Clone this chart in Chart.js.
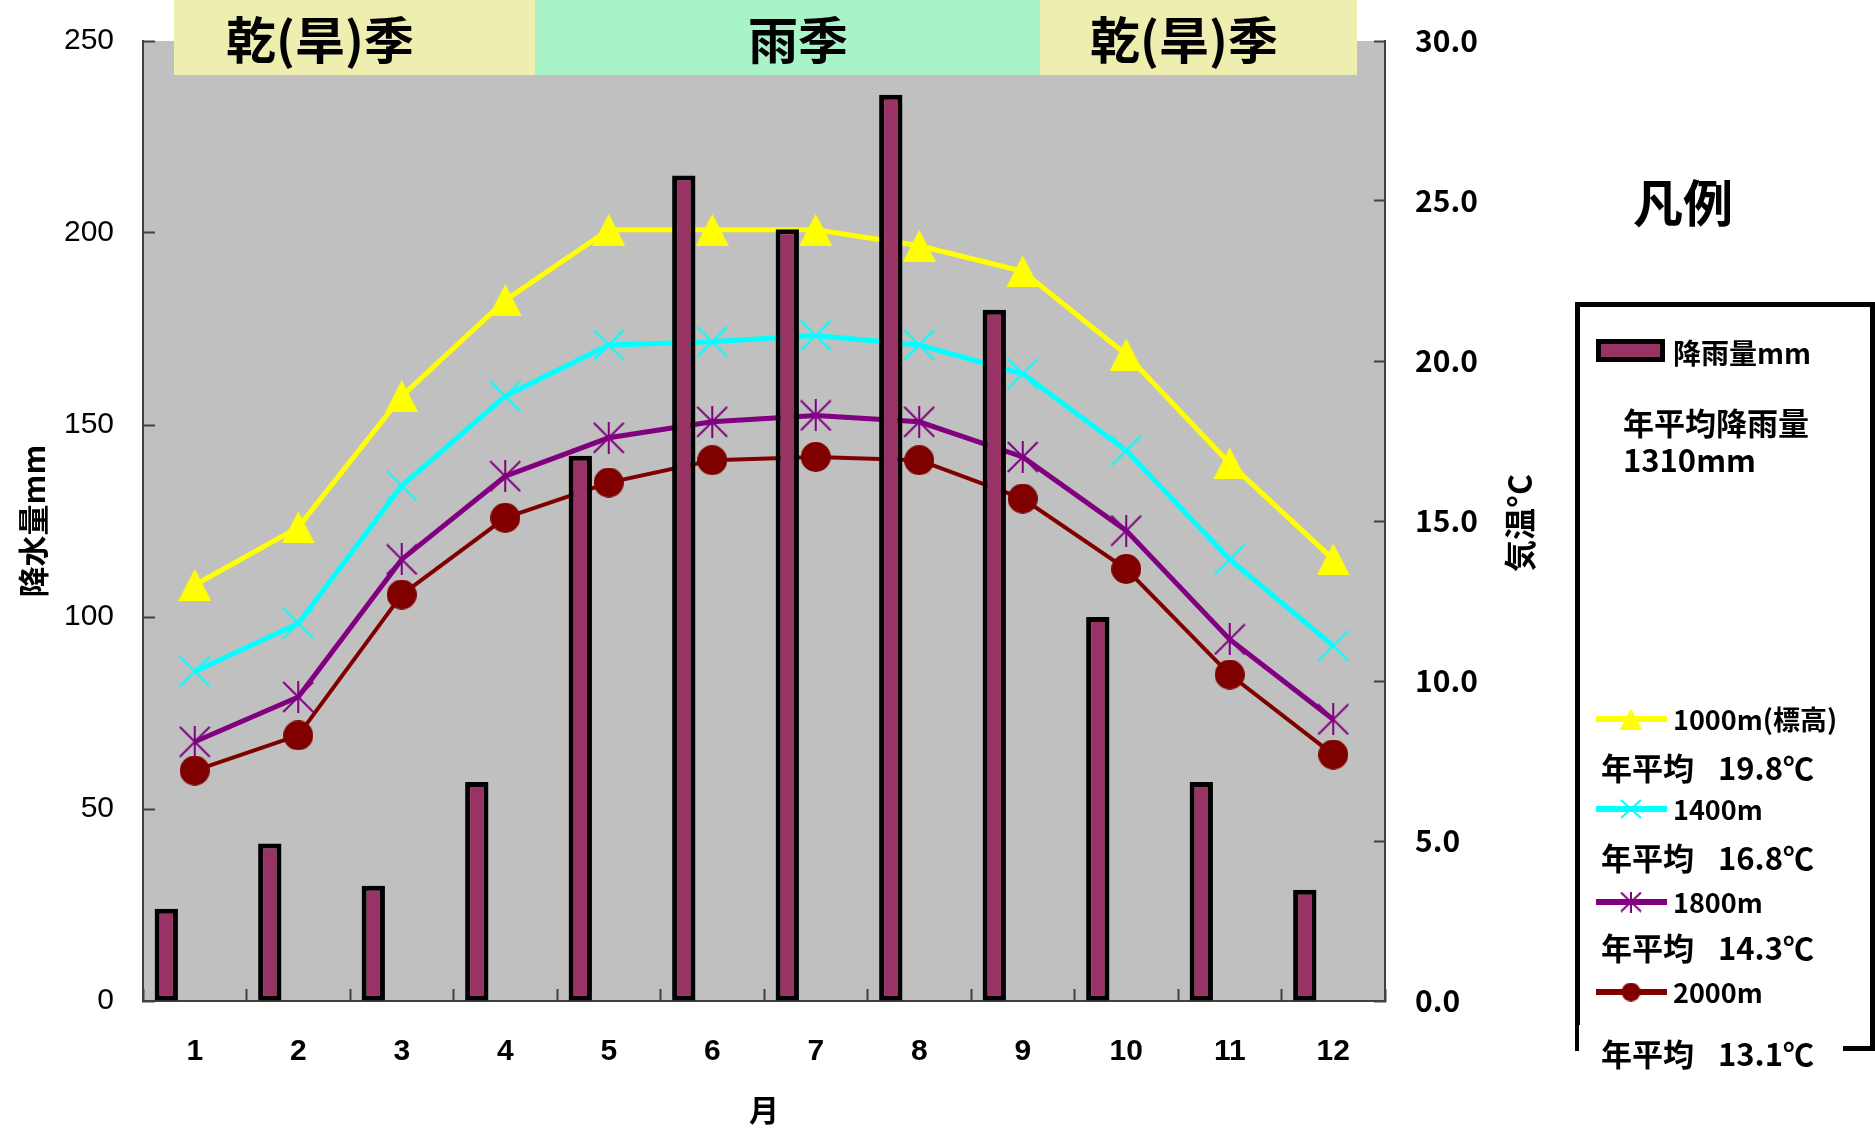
<!DOCTYPE html>
<html lang="ja">
<head>
<meta charset="UTF-8">
<title>月別降水量と標高別気温</title>
<script src="https://cdn.jsdelivr.net/npm/chart.js"></script>
<style>
  html, body { margin: 0; padding: 0; background: #fff; }
  canvas { display: block; }
</style>
</head>
<body>
<canvas id="climateChart" width="1875" height="1129"></canvas>
<script>
// 月
const months = ['1', '2', '3', '4', '5', '6', '7', '8', '9', '10', '11', '12'];
// 月降水量 (mm)
const rainfall = [24, 41, 30, 57, 142, 215, 201, 236, 180, 100, 57, 29];
// 標高別の月平均気温 (℃)
const temp1000 = [13.0, 14.8, 18.9, 21.9, 24.1, 24.1, 24.1, 23.6, 22.8, 20.2, 16.8, 13.8];
const temp1400 = [10.3, 11.8, 16.1, 18.9, 20.5, 20.6, 20.8, 20.5, 19.6, 17.2, 13.8, 11.1];
const temp1800 = [8.1, 9.5, 13.8, 16.4, 17.6, 18.1, 18.3, 18.1, 17.0, 14.7, 11.3, 8.8];
const temp2000 = [7.2, 8.3, 12.7, 15.1, 16.2, 16.9, 17.0, 16.9, 15.7, 13.5, 10.2, 7.7];
// 軸の範囲 [min, max, step]
const rainAxis = [0, 250, 50];
const tempAxis = [0, 30, 5];
// 凡例の文字
const seriesNames = ['1000m(標高)', '1400m', '1800m', '2000m'];
const annualMeans = ['19.8℃', '16.8℃', '14.3℃', '13.1℃'];
const annualRain = ['年平均降雨量', '1310mm'];
const seasons = ['乾(旱)季', '雨季', '乾(旱)季'];

const JP = '"Noto Sans CJK JP", "Noto Sans", sans-serif';
const LINE_COLORS = ['#ffff00', '#00ffff', '#800080', '#800000'];
const BAR_COLOR = '#993366';

// マーカー画像を作る
function makeMarker(kind, color, w, h, lw) {
  const c = document.createElement('canvas');
  c.width = w; c.height = h;
  const g = c.getContext('2d');
  g.fillStyle = color;
  g.strokeStyle = color;
  g.lineWidth = lw || 2;
  g.beginPath();
  if (kind === 'triangle') {
    g.moveTo(w / 2, 0); g.lineTo(w, h); g.lineTo(0, h); g.closePath(); g.fill();
  } else if (kind === 'circle') {
    g.ellipse(w / 2, h / 2, w / 2, h / 2, 0, 0, Math.PI * 2); g.fill();
  } else {
    const p = g.lineWidth / 2;
    g.moveTo(p, p); g.lineTo(w - p, h - p);
    g.moveTo(w - p, p); g.lineTo(p, h - p);
    if (kind === 'asterisk') { g.moveTo(w / 2, 0); g.lineTo(w / 2, h); }
    g.stroke();
  }
  return c;
}

const plotMarkers = [
  makeMarker('triangle', LINE_COLORS[0], 33, 32),
  makeMarker('x', LINE_COLORS[1], 32, 32, 2),
  makeMarker('asterisk', LINE_COLORS[2], 32, 32, 2),
  makeMarker('circle', LINE_COLORS[3], 30, 30)
];
const legendMarkers = [
  makeMarker('triangle', LINE_COLORS[0], 22, 21),
  makeMarker('x', LINE_COLORS[1], 22, 20, 2),
  makeMarker('asterisk', LINE_COLORS[2], 22, 21, 2),
  makeMarker('circle', LINE_COLORS[3], 19, 19)
];

function lineSet(label, data, i, width) {
  return {
    type: 'line',
    label: label,
    data: data,
    yAxisID: 'y1',
    order: 1,
    borderColor: LINE_COLORS[i],
    backgroundColor: LINE_COLORS[i],
    borderWidth: width,
    tension: 0,
    pointStyle: plotMarkers[i],
    pointRadius: 16,
    pointBorderWidth: 0
  };
}

// 縦軸の大きさを固定し、ラベル分の余白を付けない
function fixWidth(w) {
  return s => { s.width = w; s.paddingTop = 0; s.paddingBottom = 0; };
}

// 背景・季節帯・凡例・右軸タイトル
const decorations = {
  id: 'decorations',
  beforeDraw(chart) {
    const { ctx, chartArea: a } = chart;
    ctx.save();
    ctx.fillStyle = '#c0c0c0';
    ctx.fillRect(a.left, a.top, a.right - a.left, a.bottom - a.top);
    ctx.restore();
  },
  afterDraw(chart) {
    const ctx = chart.ctx;
    ctx.save();

    // 季節帯
    const bands = [[174, 535, '#eeeeb0', 320], [535, 1040, '#a8f4c8', 798], [1040, 1357, '#eeeeb0', 1184]];
    ctx.textAlign = 'center';
    ctx.textBaseline = 'middle';
    ctx.font = 'bold 50px ' + JP;
    bands.forEach((b, i) => {
      ctx.fillStyle = b[2];
      ctx.fillRect(b[0], 0, b[1] - b[0], 75);
      ctx.fillStyle = '#000';
      ctx.fillText(seasons[i], b[3], 40);
    });

    // 右軸タイトル
    ctx.save();
    ctx.translate(1520, 523);
    ctx.rotate(-Math.PI / 2);
    ctx.font = 'bold 32px ' + JP;
    ctx.fillText('気温°C', 0, 0);
    ctx.restore();

    // 凡例
    ctx.font = 'bold 50px ' + JP;
    ctx.fillText('凡例', 1683, 203);

    ctx.strokeStyle = '#000';
    ctx.lineWidth = 5;
    ctx.strokeRect(1577.5, 304.5, 295, 744);

    ctx.textAlign = 'left';
    ctx.fillStyle = BAR_COLOR;
    ctx.fillRect(1598, 341, 65, 19);
    ctx.lineWidth = 5;
    ctx.strokeRect(1598.5, 341.5, 64, 18);
    ctx.fillStyle = '#000';
    ctx.font = 'bold 28px ' + JP;
    ctx.fillText('降雨量mm', 1673, 353);
    ctx.font = 'bold 31px ' + JP;
    ctx.fillText(annualRain[0], 1623, 423);
    ctx.fillText(annualRain[1], 1623, 460);

    const rows = [719, 809, 902, 992];
    const means = [768, 858, 948, 1054];
    rows.forEach((y, i) => {
      ctx.strokeStyle = LINE_COLORS[i];
      ctx.lineWidth = 6;
      ctx.beginPath();
      ctx.moveTo(1596, y);
      ctx.lineTo(1667, y);
      ctx.stroke();
      const m = legendMarkers[i];
      ctx.drawImage(m, 1631 - m.width / 2, y - m.height / 2);
      ctx.fillStyle = '#000';
      ctx.font = 'bold 27px ' + JP;
      ctx.fillText(seriesNames[i], 1673, y + 1);

      if (i === 3) {
        ctx.fillStyle = '#fff';
        ctx.fillRect(1579, 1025, 264, 50);
        ctx.fillStyle = '#000';
      }
      ctx.font = 'bold 31px ' + JP;
      ctx.fillText('年平均', 1601, means[i]);
      ctx.fillText(annualMeans[i], 1718, means[i]);
    });

    ctx.restore();
  }
};

new Chart(document.getElementById('climateChart'), {
  type: 'bar',
  data: {
    labels: months,
    datasets: [
      {
        label: '降雨量mm',
        data: rainfall,
        yAxisID: 'y',
        order: 0,
        backgroundColor: BAR_COLOR,
        borderColor: '#000',
        borderWidth: 5,
        borderSkipped: false,
        categoryPercentage: 1.1,
        barPercentage: 0.41
      },
      {
        // 右側の空き枠
        label: '',
        data: months.map(() => null),
        yAxisID: 'y',
        order: 0,
        categoryPercentage: 1.1,
        barPercentage: 0.41
      },
      lineSet(seriesNames[0], temp1000, 0, 5),
      lineSet(seriesNames[1], temp1400, 1, 5),
      lineSet(seriesNames[2], temp1800, 2, 5),
      lineSet(seriesNames[3], temp2000, 3, 4)
    ]
  },
  options: {
    responsive: false,
    animation: false,
    layout: { padding: { top: 41, right: 290, bottom: 0, left: 0 } },
    plugins: {
      legend: { display: false },
      tooltip: { enabled: false }
    },
    scales: {
      x: {
        type: 'category',
        offset: true,
        afterFit: s => { s.height = 128; s.paddingLeft = 0; s.paddingRight = 0; },
        border: { color: '#404040', width: 2 },
        grid: { offset: true, drawOnChartArea: false, tickLength: -12, tickColor: '#404040', tickWidth: 2 },
        ticks: {
          color: '#000',
          padding: 45,
          maxRotation: 0,
          autoSkip: false,
          font: { family: '"Liberation Sans", Arial, sans-serif', size: 30, weight: 'bold' }
        },
        title: {
          display: true,
          text: '月',
          color: '#000',
          padding: { top: 0, bottom: 1 },
          font: { family: JP, size: 30, weight: 'bold' }
        }
      },
      y: {
        position: 'left',
        min: rainAxis[0],
        max: rainAxis[1],
        afterFit: fixWidth(143),
        border: { color: '#404040', width: 2 },
        grid: { drawOnChartArea: false, tickLength: -12, tickColor: '#404040', tickWidth: 2 },
        ticks: {
          stepSize: rainAxis[2],
          color: '#000',
          padding: 41,
          font: { family: '"Liberation Sans", Arial, sans-serif', size: 30 }
        },
        title: {
          display: true,
          text: '降水量mm',
          color: '#000',
          padding: { top: 15, bottom: 0 },
          font: { family: JP, size: 31, weight: 'bold' }
        }
      },
      y1: {
        position: 'right',
        min: tempAxis[0],
        max: tempAxis[1],
        afterFit: fixWidth(200),
        border: { color: '#404040', width: 2 },
        grid: { drawOnChartArea: false, tickLength: -11, tickColor: '#404040', tickWidth: 2 },
        ticks: {
          stepSize: tempAxis[2],
          color: '#000',
          padding: 41,
          callback: v => v.toFixed(1),
          font: { family: JP, size: 30, weight: 'bold' }
        }
      }
    }
  },
  plugins: [decorations]
});
</script>
</body>
</html>
